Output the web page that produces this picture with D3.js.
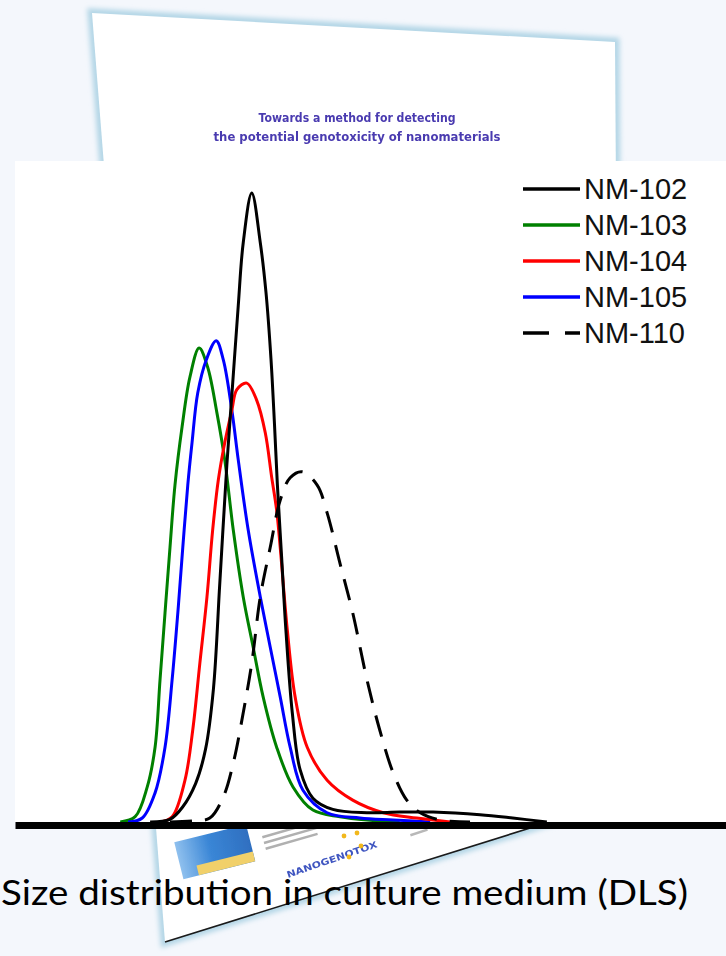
<!DOCTYPE html>
<html>
<head>
<meta charset="utf-8">
<script src="https://cdn.jsdelivr.net/npm/d3@7"></script>
<style>
  html, body { margin: 0; padding: 0; background: #f4f7fc; }
  #chart { width: 726px; height: 956px; }
</style>
</head>
<body>
<div id="chart"></div>
<script>
//Datos: [tamaño (unidades relativas), intensidad %]
const labels = ['NM-102', 'NM-103', 'NM-104', 'NM-105', 'NM-110'];

const nm102 = [[19.0,0],[21.8,0.4],[23.6,2.3],[25.4,5.8],[26.8,11.0],[27.9,20.0],[28.8,36.0],[29.8,54.0],
  [30.6,66.0],[31.4,78.0],[32.1,87.5],[33.3,95.0],[34.5,87.5],[35.3,80.0],[36.0,70.0],
  [36.5,60.0],[36.9,51.0],[37.5,40.0],[38.1,29.0],[39.0,16.5],[40.1,7.9],[41.9,3.6],[44.7,1.9],
  [49.5,1.4],[54.1,1.5],[58.8,1.5],[65.4,1.1],[70.0,0.6],[74.8,0]];

const nm103 = [[14.8,0],[16.9,0.8],[18.6,5.3],[19.7,11.3],[20.4,21.5],[21.1,31.6],[21.8,41.5],[22.5,50.9],
  [23.5,59.7],[24.6,67.2],[25.9,71.6],[27.1,68.7],[28.4,61.8],[29.5,54.7],[30.7,44.1],[32.1,34.0],
  [33.5,26.4],[34.9,18.9],[36.8,11.3],[39.1,5.3],[41.9,1.8],[45.7,0.8],[49.5,0.3],[54.1,0]];

const nm104 = [[20.4,0],[22.1,0.8],[23.9,6.3],[25.0,13.9],[26.0,24.0],[27.0,34.0],[27.8,44.1],[28.6,51.7],
  [29.5,57.3],[30.5,62.2],[31.2,65.3],[32.6,66.3],[34.0,63.7],[35.2,58.8],[36.1,52.1],[36.8,47.1],
  [37.3,41.5],[38.3,29.0],[39.4,18.9],[41.1,11.3],[43.9,6.3],[47.5,3.3],[51.8,1.4],[56.5,0.6],[61.2,0]];

const nm105 = [[15.9,0],[17.9,0.6],[19.7,4.4],[21.1,11.3],[22.1,21.5],[22.9,31.6],[23.6,41.5],[24.3,50.9],
  [24.9,57.3],[25.7,64.8],[26.9,69.8],[28.3,72.7],[29.3,69.8],[30.5,62.2],[31.4,54.7],[32.8,44.1],
  [34.5,34.0],[35.9,26.4],[37.3,18.9],[38.7,11.3],[40.5,4.8],[43.9,1.4],[48.5,0.6],[53.2,0.3],[58.4,0]];

const nm110 = [[21.8,0],[25.3,0.2],[27.4,0.6],[29.3,3.8],[30.7,8.9],[32.1,16.5],[33.3,24.0],[34.5,34.0],
  [35.9,41.5],[37.3,48.6],[38.7,52.0],[40.4,52.9],[42.5,50.9],[43.9,46.7],[45.7,39.1],[47.5,31.6],
  [49.5,21.5],[51.3,13.9],[53.2,7.4],[55.1,3.3],[57.0,1.4],[59.8,0.3],[64.0,0]];

//Colores
const COLOR_102 = '#000000',
  COLOR_103 = '#008000',
  COLOR_104 = '#ff0000',
  COLOR_105 = '#0000ff',
  COLOR_110 = '#000000';

const seriesData = [nm102, nm103, nm104, nm105, nm110];
const seriesColor = [COLOR_102, COLOR_103, COLOR_104, COLOR_105, COLOR_110];
const seriesDash = [null, null, null, null, '22,13'];

let svg = d3.select('#chart')
  .append('svg')
    .attr('width', 726)
    .attr('height', 956);

let defs = svg.append('defs');
defs.append('filter').attr('id', 'glow')
  .append('feGaussianBlur').attr('stdDeviation', 2.5);
defs.append('filter').attr('id', 'soft')
  .append('feGaussianBlur').attr('stdDeviation', 0.4);
let grad = defs.append('linearGradient').attr('id', 'logoBlue')
  .attr('x1', 0).attr('x2', 1).attr('y1', 0).attr('y2', 0);
grad.append('stop').attr('offset', '0%').attr('stop-color', '#8fc0ee');
grad.append('stop').attr('offset', '45%').attr('stop-color', '#3a86d6');
grad.append('stop').attr('offset', '100%').attr('stop-color', '#2f6fc0');

//Hoja de fondo (documento inclinado)
let paper = [[92,13],[615,42],[620,800],[165,942]];
svg.append('polygon')
  .attr('points', paper.join(' '))
  .attr('fill', 'none')
  .attr('stroke', '#b3d6e6')
  .attr('stroke-width', 9)
  .attr('filter', 'url(#glow)');
svg.append('polygon')
  .attr('points', paper.join(' '))
  .attr('fill', '#ffffff');
svg.append('line')
  .attr('x1', 165).attr('y1', 942).attr('x2', 620).attr('y2', 800)
  .attr('stroke', '#1a1a1a').attr('stroke-width', 1.6);

let title = svg.append('g').attr('filter', 'url(#soft)')
  .attr('font-family', 'DejaVu Sans').attr('font-weight', 'bold')
  .attr('font-size', 13).attr('fill', '#4a3bb0').attr('text-anchor', 'middle');
title.append('text').attr('x', 357).attr('y', 122)
  .attr('textLength', 197).attr('lengthAdjust', 'spacingAndGlyphs')
  .text('Towards a method for detecting');
title.append('text').attr('x', 357).attr('y', 141)
  .attr('textLength', 287).attr('lengthAdjust', 'spacingAndGlyphs')
  .text('the potential genotoxicity of nanomaterials');

//Logos al pie del documento
let foot = svg.append('g').attr('filter', 'url(#soft)');
let box = foot.append('g').attr('transform', 'translate(214,853) rotate(-14)');
box.append('rect').attr('x', -36).attr('y', -20).attr('width', 74).attr('height', 38).attr('fill', 'url(#logoBlue)');
box.append('rect').attr('x', -20).attr('y', 8).attr('width', 58).attr('height', 10).attr('fill', '#f1d06a');
let grey = foot.append('g').attr('transform', 'translate(262,836) rotate(-16)');
[0, 6, 12].forEach(function(d, i) {
  grey.append('rect').attr('x', 0).attr('y', d).attr('width', 70 - i * 8).attr('height', 2.5).attr('fill', '#b0b0b0');
});
foot.append('text')
  .attr('transform', 'translate(288,878) rotate(-19)')
  .attr('font-family', 'DejaVu Sans').attr('font-weight', 'bold').attr('font-size', 9)
  .attr('fill', '#3f55c0').attr('textLength', 95).attr('lengthAdjust', 'spacingAndGlyphs')
  .text('NANOGENOTOX');
[[344,836],[357,833],[349,857],[361,846]].forEach(function(p) {
  foot.append('circle').attr('cx', p[0]).attr('cy', p[1]).attr('r', 2.4).attr('fill', '#f2b81c');
});
foot.append('rect').attr('transform', 'translate(410,834) rotate(-18)')
  .attr('width', 18).attr('height', 2.5).attr('fill', '#b8b8b8');

//Panel del gráfico
let margin = {top: 161, right: 0, bottom: 134, left: 15},
  width = 726 - margin.left - margin.right,
  height = 956 - margin.top - margin.bottom;

svg.append('rect')
  .attr('x', margin.left).attr('y', margin.top)
  .attr('width', width).attr('height', height)
  .attr('fill', '#ffffff');

let g = svg.append('g')
  .attr('transform', 'translate(' + margin.left + ',' + margin.top + ')');

let x = d3.scaleLinear()
  .domain([0, 100])
  .range([0, width]);

let y = d3.scaleLinear()
  .domain([0, 100])
  .range([height, height - 662]);

let line = d3.line()
  .x(function(d) { return x(d[0]); })
  .y(function(d) { return y(d[1]); })
  .curve(d3.curveCatmullRom.alpha(0.5));

//Orden de dibujo: verde, azul, rojo, negros
[1, 3, 2, 0, 4].forEach(function(i) {
  g.append('path')
    .datum(seriesData[i])
    .attr('fill', 'none')
    .attr('stroke', seriesColor[i])
    .attr('stroke-width', 3)
    .attr('stroke-linejoin', 'round')
    .attr('stroke-dasharray', seriesDash[i])
    .attr('d', line);
});

//Eje X (solo la línea gruesa)
let xAxis = g.append('g')
  .attr('transform', 'translate(0,' + (height + 3) + ')')
  .call(d3.axisBottom(x).tickValues([]).tickSizeOuter(0));
xAxis.select('.domain')
  .attr('stroke', '#000')
  .attr('stroke-width', 7);

//Leyenda
let legend = svg.append('g').attr('transform', 'translate(523,189)');
labels.forEach(function(name, i) {
  let row = legend.append('g').attr('transform', 'translate(0,' + i * 36 + ')');
  row.append('line')
    .attr('x1', 0).attr('x2', 57).attr('y1', 0).attr('y2', 0)
    .attr('stroke', seriesColor[i])
    .attr('stroke-width', 3.5)
    .attr('stroke-dasharray', i === 4 ? '26,16' : null);
  row.append('text')
    .attr('x', 61).attr('y', 10)
    .attr('font-family', 'Liberation Sans, Arial, sans-serif')
    .attr('font-size', 29)
    .attr('fill', '#111')
    .text(name);
});

//Pie
svg.append('text')
  .attr('x', 1).attr('y', 905)
  .attr('font-family', 'Lato, Open Sans, sans-serif')
  .attr('font-size', 35)
  .attr('fill', '#000')
  .attr('textLength', 687)
  .attr('lengthAdjust', 'spacingAndGlyphs')
  .text('Size distribution in culture medium (DLS)');
</script>
</body>
</html>
